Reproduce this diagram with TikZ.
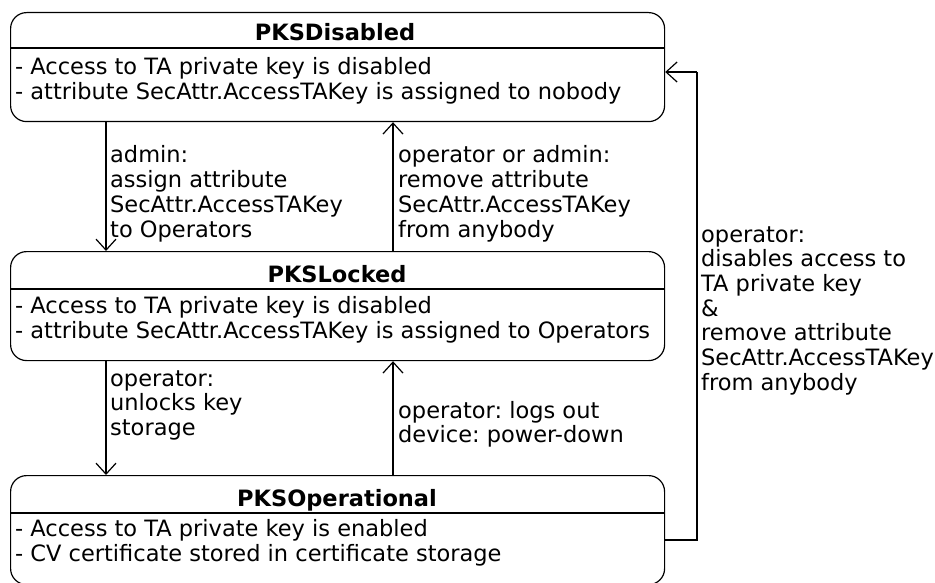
\documentclass[tikz,border=0pt]{standalone}
\usepackage{fontspec}
\setmainfont{DejaVu Sans}
\usetikzlibrary{arrows.meta}
\frenchspacing
% multi-line text whose baseline is that of its first line
\newcommand{\lines}[1]{\begin{tabular}[t]{@{}l@{}}#1\end{tabular}}
\begin{document}
\begin{tikzpicture}[x=1pt,y=-1pt,
  statebox/.style={draw, line width=1.2pt, rounded corners=16pt, minimum width=654pt, inner sep=0pt, anchor=north west},
  title/.style={font=\fontsize{22.5}{25}\selectfont\bfseries, anchor=base, inner sep=0pt},
  body/.style={font=\fontsize{22.5}{25}\selectfont, anchor=base west, inner sep=0pt},
  lbl/.style={font=\fontsize{22.5}{24.7}\selectfont, anchor=base west, inner sep=0pt},
  sep/.style={line width=1.2pt},
  arr/.style={line width=1.2pt, -{Straight Barb[length=11pt,width=20pt,line width=1.2pt]}},
  conn/.style={line width=1.2pt}
]
\useasboundingbox (0,0) rectangle (935,583);

% state boxes
\node[statebox, minimum height=109pt] (s1) at (10,12) {};
\node[statebox, minimum height=109pt] (s2) at (10,251) {};
\node[statebox, minimum height=109pt] (s3) at (10,475) {};

% titles
\node[title] (t1) at (335,41) {PKSDisabled};
\node[title] (t2) at (337,282) {PKSLocked};
\node[title] (t3) at (337,506) {PKSOperational};

% compartment lines
\draw[sep] (s1.west |- 0,48) -- (s1.east |- 0,48);
\draw[sep] (s2.west |- 0,289) -- (s2.east |- 0,289);
\draw[sep] (s3.west |- 0,513) -- (s3.east |- 0,513);

% bodies
\node[body] (b1) at (15,75) {\lines{- Access to TA private key is disabled\\- attribute SecAttr.AccessTAKey is assigned to nobody}};
\node[body] (b2) at (15,313) {\lines{- Access to TA private key is disabled\\- attribute SecAttr.AccessTAKey is assigned to Operators}};
\node[body] (b3) at (15,536) {\lines{- Access to TA private key is enabled\\- CV certificate stored in certificate storage}};

% connector columns
\coordinate (cl) at (106,0);
\coordinate (cr) at (393,0);
\coordinate (fx) at (697,0);
\coordinate (fin) at (0,72);
\coordinate (fout) at (0,540);

% transitions
\draw[arr] (s1.south -| cl) -- (s2.north -| cl);
\draw[arr] (s2.north -| cr) -- (s1.south -| cr);
\draw[arr] (s2.south -| cl) -- (s3.north -| cl);
\draw[arr] (s3.north -| cr) -- (s2.south -| cr);
\draw[conn] (s3.east |- fout) -| (fx |- fin) coordinate (fcorner);
\draw[arr] (fcorner) -- (s1.east |- fin);

% transition labels
\node[lbl] (l1) at (110,163) {\lines{admin:\\assign attribute\\SecAttr.AccessTAKey\\to Operators}};
\node[lbl] (l2) at (398,163) {\lines{operator or admin:\\remove attribute\\SecAttr.AccessTAKey\\from anybody}};
\node[lbl] (l3) at (110,386) {\lines{operator:\\unlocks key\\storage}};
\node[lbl] (l4) at (398,418) {\lines{operator: logs out\\device: power-down}};
\node[lbl] (l5) at (701,242) {\lines{operator:\\disables access to\\TA private key\\\&\\remove attribute\\SecAttr.AccessTAKey\\from anybody}};
\end{tikzpicture}
\end{document}
